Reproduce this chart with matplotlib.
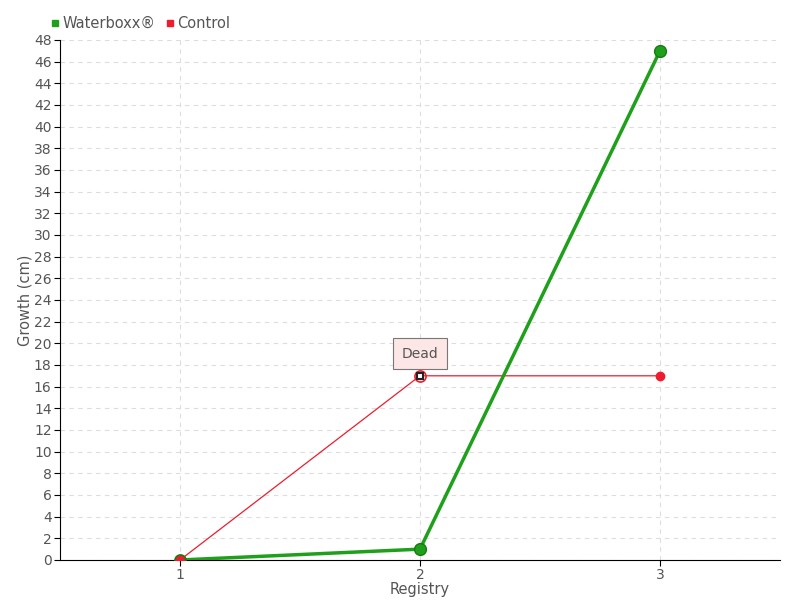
import numpy as np
import matplotlib.pyplot as plt

# Datos
registros = [1, 2, 3]
waterboxx = [0, 1, 47]
control = [0, 17, 17]
etiqueta_muerto = "Dead"

fig = plt.figure(figsize=(8, 6), dpi=100)
ax = fig.add_axes([0.075, 0.0667, 0.9, 0.8667])

verde = '#1fa01a'
rojo = '#ee1c2e'
gris_texto = '#555555'

# Control (fino)
ax.plot(registros, control, color=rojo, lw=0.9, zorder=3)
ax.plot(registros[2], control[2], 'o', ms=6, color=rojo, mec=rojo, zorder=5)
# punto "muerto"
ax.plot(registros[1], control[1], 's', ms=5, mfc='white', mec='#222222', mew=1.5, zorder=6)
ax.plot(registros[1], control[1], 'o', ms=8, mfc='none', mec=rojo, mew=1.2, zorder=5)

# Waterboxx (grueso)
ax.plot(registros, waterboxx, color=verde, lw=2.5, zorder=4)
ax.plot(registros[1:], waterboxx[1:], 'o', ms=8.5, color=verde, mec='#177a14', zorder=6)
ax.plot(registros[0], control[0], 'o', ms=8, color=rojo, mec='#1a7a14', mew=1.2, zorder=7)

# Etiqueta "Dead"
ax.annotate(etiqueta_muerto, xy=(registros[1], control[1]), xytext=(0, 16),
            textcoords='offset points', ha='center', va='center',
            fontsize=10, color=gris_texto,
            bbox=dict(boxstyle='square,pad=0.6', fc='#fde6e6', ec='#777777', lw=0.8),
            arrowprops=dict(arrowstyle='-', color='#777777', lw=0.8, shrinkA=0, shrinkB=4),
            zorder=8)

# Ejes
ax.set_xlim(0.5, 3.5)
ax.set_ylim(0, 48)
ax.set_xticks(registros)
ax.set_yticks(np.arange(0, 49, 2))
ax.tick_params(colors='black', labelcolor=gris_texto, labelsize=10, length=4, pad=2)
ax.spines['top'].set_visible(False)
ax.spines['right'].set_visible(False)
ax.grid(True, ls=(0, (4, 4)), color='#dddddd', lw=0.8)
ax.set_axisbelow(True)

ax.set_xlabel("Registry", color=gris_texto, fontsize=10.5, labelpad=0)
ax.set_ylabel("Growth (cm)", color=gris_texto, fontsize=10.5, labelpad=1)

# Leyenda
h1 = plt.Line2D([], [], ls='none', marker='s', ms=5, color=verde)
h2 = plt.Line2D([], [], ls='none', marker='s', ms=5, color=rojo)
fig.legend([h1, h2], ["Waterboxx®", "Control"], loc='upper left',
           bbox_to_anchor=(0.045, 0.995), ncol=2, frameon=False,
           handletextpad=0.1, columnspacing=0.6, handlelength=0.8,
           labelcolor=gris_texto, fontsize=10.5)

plt.savefig("out.png", dpi=100)
